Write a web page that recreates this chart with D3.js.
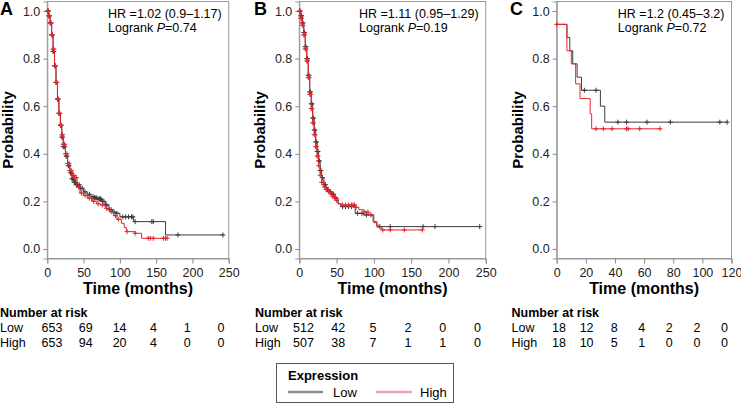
<!DOCTYPE html>
<html>
<head>
<meta charset="utf-8">
<script src="https://cdn.jsdelivr.net/npm/d3@7"></script>
<style>
  body { margin: 0; background: #fff; }
  svg { font-family: "Liberation Sans", Arial, sans-serif; }
  .tick text { fill: #222; }
</style>
</head>
<body>
<svg id="chart" width="741" height="405"></svg>
<script>
// Kaplan-Meier panels A, B, C with number-at-risk tables

// ---- data: [time (months), survival probability]
var aLowCurve = [[0,1],[2,0.98],[4,0.95],[6,0.9],[8,0.83],[10,0.77],[12,0.7],[14,0.63],[16,0.57],[18,0.52],
  [20,0.47],[22,0.43],[25,0.39],[28,0.35],[31,0.32],[34,0.295],[37,0.28],[40,0.27],[45,0.255],[50,0.24],
  [55,0.23],[60,0.22],[65,0.215],[70,0.21],[75,0.2],[80,0.185],[85,0.165],[90,0.155],[95,0.15],[100,0.135],
  [119,0.115],[163,0.059],[243,0.059]];
var aHighCurve = [[0,1],[2,0.98],[4,0.95],[6,0.9],[8,0.84],[10,0.77],[12,0.7],[14,0.63],[16,0.57],[18,0.52],
  [20,0.48],[22,0.44],[25,0.4],[28,0.36],[31,0.33],[35,0.31],[38,0.3],[41,0.26],[45,0.235],[50,0.225],
  [56,0.213],[62,0.2],[68,0.19],[73,0.185],[80,0.17],[86,0.157],[91,0.14],[96,0.125],[102,0.108],[106,0.09],
  [109,0.073],[121,0.066],[130,0.045],[166,0.045]];
var aLowCensor = [1,1.5,2,3,4,5,6,7,8,9,10,11,12,13,14,15,16,17,18,19,20,21,22,23,24,26,27,29,30,32,33,34,35,36,37,38,39,40,41,42,44,46,48,52,58,63,65,66,68,70,72,73,74,76,78,80,82,86,88,92,96,104,108,112,116,118,121,144,146,180,242];
var aHighCensor = [0.5,1,2,3,4,5,6,7,8,9,10,11,12,13,14,15,16,17,18,19,20,21,22,23,24,25,27,28,30,31,33,35,36,38,40,43,47,52,55,58,61,64,70,76,82,88,94,98,110,121,139,142,146,160,163,165];

var bLowCurve = [[0,1],[2,0.98],[4,0.95],[6,0.91],[8,0.85],[10,0.8],[12,0.73],[14,0.66],[16,0.61],[18,0.55],
  [20,0.5],[22,0.45],[24,0.41],[26,0.37],[28,0.33],[30,0.3],[33,0.27],[36,0.25],[40,0.24],[44,0.23],
  [48,0.215],[52,0.19],[56,0.178],[75,0.15],[86,0.143],[99,0.115],[104,0.1],[106,0.094],[243,0.094]];
var bHighCurve = [[0,1],[2,0.97],[4,0.94],[6,0.9],[8,0.84],[10,0.79],[12,0.72],[14,0.65],[16,0.59],[18,0.53],
  [20,0.48],[22,0.43],[24,0.39],[26,0.35],[28,0.31],[30,0.28],[33,0.26],[36,0.25],[40,0.235],[44,0.22],
  [48,0.205],[52,0.19],[56,0.185],[76,0.175],[80,0.165],[86,0.155],[93,0.143],[100,0.11],[104,0.092],[110,0.08],[166,0.08]];
var bLowCensor = [1,2,3,4,5,6,7,8,9,10,11,12,13,14,15,16,17,18,19,20,21,22,23,24,25,26,27,28,29,31,33,35,37,38,40,42,44,46,48,58,62,66,70,78,84,90,96,108,122,166,182,242];
var bHighCensor = [0.5,1,2,3,4,5,6,7,8,9,10,11,12,13,14,15,16,17,18,19,20,21,22,23,24,25,26,28,30,32,34,36,39,42,45,47,50,58,62,66,70,72,74,76,88,92,112,122,141,165];

var cLowCurve = [[0,0.944],[7,0.889],[9,0.833],[11,0.778],[14,0.722],[17,0.667],[30,0.6],[33,0.533],[117,0.533]];
var cHighCurve = [[0,0.944],[7,0.833],[10,0.778],[13,0.694],[16,0.632],[23,0.568],[24,0.505],[71,0.505]];
var cLowCensor = [19,27,42,48,62,78,112,117];
var cHighCensor = [0,27,32,38,48,49,57,71];

// hazard ratio / logrank
var hrLabels = ["HR =1.02 (0.9\u20131.17)", "HR =1.11 (0.95\u20131.29)", "HR =1.2 (0.45\u20133.2)"];
var pLabels = ["0.74", "0.19", "0.72"];
var panelLetters = ["A", "B", "C"];

// number at risk
var aRiskTimes = [0, 50, 100, 150, 200, 250];
var aRiskLow = [653, 69, 14, 4, 1, 0];
var aRiskHigh = [653, 94, 20, 4, 0, 0];
var bRiskTimes = [0, 50, 100, 150, 200, 250];
var bRiskLow = [512, 42, 5, 2, 0, 0];
var bRiskHigh = [507, 38, 7, 1, 1, 0];
var cRiskTimes = [0, 20, 40, 60, 80, 100, 120];
var cRiskLow = [18, 12, 8, 4, 2, 2, 0];
var cRiskHigh = [18, 10, 5, 1, 0, 0, 0];

var xTicksA = [0, 50, 100, 150, 200, 250];
var xTicksC = [0, 20, 40, 60, 80, 100, 120];
var yTicks = [0, 0.2, 0.4, 0.6, 0.8, 1.0];

var lowColor = "#3c3c3c";
var highColor = "#e3262f";

var panels = [
  { low: aLowCurve, high: aHighCurve, lowC: aLowCensor, highC: aHighCensor, xmax: 250, xt: xTicksA,
    rT: aRiskTimes, rL: aRiskLow, rH: aRiskHigh, x0: 47.3, x1: 228.7, rx0: 52, rx1: 221, lab: 0, tx: 0 },
  { low: bLowCurve, high: bHighCurve, lowC: bLowCensor, highC: bHighCensor, xmax: 250, xt: xTicksA,
    rT: bRiskTimes, rL: bRiskLow, rH: bRiskHigh, x0: 299.3, x1: 485.7, rx0: 303.5, rx1: 477.5, lab: 255, tx: 255 },
  { low: cLowCurve, high: cHighCurve, lowC: cLowCensor, highC: cHighCensor, xmax: 120, xt: xTicksC,
    rT: cRiskTimes, rL: cRiskLow, rH: cRiskHigh, x0: 556.7, x1: 731.5, rx0: 559, rx1: 724.5, lab: 511, tx: 511.5 }
];

var svg = d3.select("#chart");
var y = d3.scaleLinear().domain([-0.04, 1.04]).range([258.5, 1.5]);

function survAt(curve, t) {
  var s = curve[0][1];
  for (var p of curve) { if (p[0] <= t) s = p[1]; }
  return s;
}

panels.forEach(function(p, i) {
  var x = d3.scaleLinear().domain([0, p.xmax]).range([p.x0, p.x1]);
  var g = svg.append("g");

  // frame
  g.append("rect")
    .attr("x", p.x0).attr("y", y(1.04))
    .attr("width", p.x1 - p.x0).attr("height", y(-0.04) - y(1.04))
    .attr("fill", "none").attr("stroke", "#999");

  var yAx = g.append("g").attr("transform", "translate(" + p.x0 + ",0)")
    .call(d3.axisLeft(y).tickValues(yTicks).tickFormat(d3.format(".1f")).tickSize(4).tickPadding(3));
  var xAx = g.append("g").attr("transform", "translate(0," + y(-0.04) + ")")
    .call(d3.axisBottom(x).tickValues(p.xt).tickSize(5).tickPadding(5));
  [yAx, xAx].forEach(function(a) {
    a.select(".domain").attr("stroke", "#999");
    a.selectAll(".tick line").attr("stroke", "#888");
    a.selectAll(".tick text").attr("font-size", 12.5).attr("font-family", "Liberation Sans, Arial, sans-serif");
  });

  // curves
  var line = d3.line().curve(d3.curveStepAfter)
    .x(function(d) { return x(d[0]); }).y(function(d) { return y(d[1]); });
  [[p.low, p.lowC, lowColor], [p.high, p.highC, highColor]].forEach(function(s) {
    g.append("path").attr("d", line(s[0]))
      .attr("fill", "none").attr("stroke", s[2]).attr("stroke-width", 1);
    g.selectAll(null).data(s[1]).enter().append("path")
      .attr("transform", function(t) { return "translate(" + x(t) + "," + y(survAt(s[0], t)) + ")"; })
      .attr("d", "M-2.5,0H2.5M0,-2.5V2.5")
      .attr("stroke", s[2]).attr("stroke-width", 1).attr("fill", "none");
  });

  // labels
  g.append("text").attr("x", p.lab).attr("y", 15)
    .attr("font-size", 18).attr("font-weight", "bold").text(panelLetters[i])
    .attr("dx", i == 0 ? 0 : -1);
  g.append("text")
    .attr("transform", "translate(" + (p.x0 - 34) + "," + y(0.5) + ") rotate(-90)")
    .attr("text-anchor", "middle").attr("font-size", 15).attr("font-weight", "bold")
    .text("Probability");
  g.append("text").attr("x", (p.x0 + p.x1) / 2).attr("y", 294)
    .attr("text-anchor", "middle").attr("font-size", 16).attr("font-weight", "bold")
    .text("Time (months)");

  // HR block, right-aligned as a group
  var hr = g.append("text").attr("y", 18).attr("font-size", 12.5).text(hrLabels[i]);
  var lr = g.append("text").attr("y", 31.5).attr("font-size", 12.5);
  lr.append("tspan").text("Logrank ");
  lr.append("tspan").attr("font-style", "italic").text("P");
  lr.append("tspan").text("=" + pLabels[i]);
  var w = Math.max(hr.node().getComputedTextLength(), lr.node().getComputedTextLength());
  hr.attr("x", p.x1 - 7 - w);
  lr.attr("x", p.x1 - 7 - w);

  // number at risk
  var rx = d3.scaleLinear().domain([0, p.xmax]).range([p.rx0, p.rx1]);
  g.append("text").attr("x", p.tx).attr("y", 316.5).attr("font-size", 12.5).attr("font-weight", "bold")
    .text("Number at risk");
  [["Low", p.rL, 331.5], ["High", p.rH, 346.5]].forEach(function(r) {
    g.append("text").attr("x", p.tx).attr("y", r[2]).attr("font-size", 12.5).text(r[0]);
    g.selectAll(null).data(r[1]).enter().append("text")
      .attr("x", function(d, j) { return rx(p.rT[j]); })
      .attr("y", r[2]).attr("text-anchor", "middle").attr("font-size", 12.5)
      .text(function(d) { return d; });
  });
});

// legend
var leg = svg.append("g");
leg.append("rect").attr("x", 276.5).attr("y", 363.5).attr("width", 177).attr("height", 39)
  .attr("fill", "#fff").attr("stroke", "#555");
leg.append("text").attr("x", 288).attr("y", 380).attr("font-size", 13).attr("font-weight", "bold").text("Expression");
leg.append("line").attr("x1", 288).attr("x2", 323).attr("y1", 392).attr("y2", 392)
  .attr("stroke", "#8c8c8c").attr("stroke-width", 2.5);
leg.append("text").attr("x", 333).attr("y", 396.5).attr("font-size", 13).text("Low");
leg.append("line").attr("x1", 376).attr("x2", 412).attr("y1", 392).attr("y2", 392)
  .attr("stroke", "#f0a3b3").attr("stroke-width", 2.5);
leg.append("text").attr("x", 420).attr("y", 396.5).attr("font-size", 13).text("High");
</script>
</body>
</html>
